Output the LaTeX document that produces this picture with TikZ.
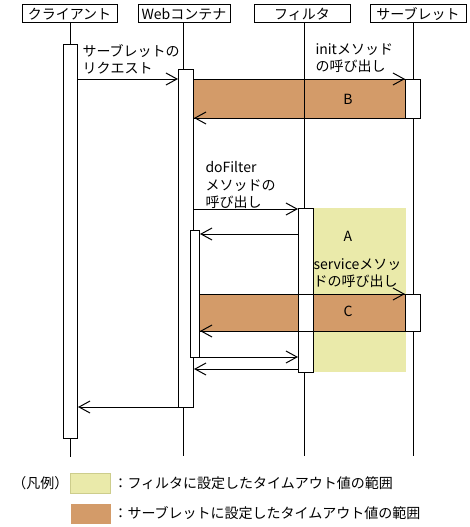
\documentclass[tikz,border=0pt]{standalone}
\usepackage{fontspec}
\setmainfont{Noto Sans CJK JP}
\usetikzlibrary{arrows.meta}
\definecolor{tmoA}{RGB}{234,234,170}
\definecolor{tmoAd}{RGB}{205,205,140}
\definecolor{tmoB}{RGB}{211,155,105}
\begin{document}
\begin{tikzpicture}[x=1pt,y=-1pt,line width=1pt,
  every node/.style={font=\fontsize{14}{17.5}\selectfont},
  head/.style={draw,minimum height=18pt,inner sep=0pt},
  act/.style={draw,fill=white,inner sep=0pt,anchor=north west},
  msg/.style={-{Straight Barb[length=11pt,width=12pt]}},
  lbl/.style={anchor=north west,inner sep=0pt,align=left}]
\useasboundingbox (0,0) rectangle (469,527);
% timeout ranges
\fill[tmoA] (313,208) rectangle (406,372);
\filldraw[fill=tmoB] (193,79) rectangle (405,118);
\filldraw[fill=tmoB] (199,294) rectangle (405,331);
% objects and lifelines
\node[head,minimum width=95pt] (cli) at (69.5,14) {クライアント};
\node[head,minimum width=92pt] (web) at (184,14) {Webコンテナ};
\node[head,minimum width=96pt] (flt) at (302,14) {フィルタ};
\node[head,minimum width=96pt] (srv) at (418,14) {サーブレット};
\draw (cli.south -| 70,0) -- (70,457);
\draw (web.south -| 183,0) -- (183,456);
\draw (flt.south -| 304,0) -- (304,456);
\draw (srv.south -| 413,0) -- (413,456);
% activations
\node[act,minimum width=14pt,minimum height=394pt] (cliA) at (63,44) {};
\node[act,minimum width=15pt,minimum height=338pt] (webA) at (178,69) {};
\node[act,minimum width=15pt,minimum height=39pt] (srvA1) at (405,79) {};
\node[act,minimum width=15pt,minimum height=164pt] (fltA) at (298,208) {};
\node[act,minimum width=9pt,minimum height=127pt] (webA2) at (190,230) {};
\node[act,minimum width=15pt,minimum height=37pt] (srvA2) at (405,294) {};
% messages
\draw[msg] (cliA.east |- 0,79) -- (webA.west |- 0,79);
\draw[msg] (webA.east |- 0,79) -- (srvA1.west |- 0,79);
\draw[msg] (srvA1.west |- 0,118) -- (webA.east |- 0,118);
\draw[msg] (webA.east |- 0,209) -- (fltA.west |- 0,209);
\draw[msg] (fltA.west |- 0,234) -- (webA2.east |- 0,234);
\draw[msg] (webA2.east |- 0,294) -- (srvA2.west |- 0,294);
\draw[msg] (srvA2.west |- 0,331) -- (webA2.east |- 0,331);
\draw[msg] (webA2.east |- 0,357) -- (fltA.west |- 0,357);
\draw[msg] (fltA.west |- 0,369) -- (webA.east |- 0,369);
\draw[msg] (webA.west |- 0,407) -- (cliA.east |- 0,407);
% labels
\node[lbl] (reqL) at (82,44) {サーブレットの\\リクエスト};
\node[lbl] (initL) at (315,43) {initメソッド\\の呼び出し};
\node[lbl] (dofL) at (205,161) {doFilter\\メソッドの\\呼び出し};
\node[lbl] (svcL) at (313,258) {serviceメソッ\\ドの呼び出し};
\node (bL) at (348,99) {B};
\node (aL) at (348,236) {A};
\node (cL) at (348,311) {C};
% legend
\node[anchor=west,inner sep=0pt] (leg) at (12,483) {（凡例）};
\node[draw=tmoAd,fill=tmoA,minimum width=40pt,minimum height=20pt,inner sep=0pt,anchor=north west] (keyA) at (70,473) {};
\node[fill=tmoB,minimum width=40pt,minimum height=20pt,inner sep=0pt,anchor=north west] (keyB) at (70,503) {};
\node[anchor=west,inner sep=0pt] (keyAL) at ([xshift=2pt]keyA.east) {：フィルタに設定したタイムアウト値の範囲};
\node[anchor=west,inner sep=0pt] (keyBL) at ([xshift=2pt]keyB.east) {：サーブレットに設定したタイムアウト値の範囲};
\end{tikzpicture}
\end{document}
